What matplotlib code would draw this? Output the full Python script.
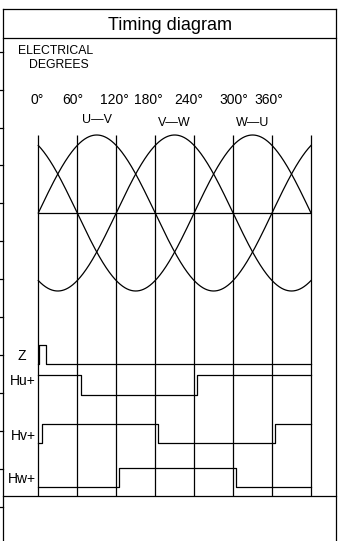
import matplotlib
matplotlib.use("Agg")
import matplotlib.pyplot as plt
import numpy as np

# ---------------- data ----------------
title = "Timing diagram"
axis_caption = ["ELECTRICAL", "DEGREES"]
degree_labels = ["0°", "60°", "120°", "180°", "240°", "300°", "360°"]
grid_degrees = [0, 60, 120, 180, 240, 300, 360, 420]

wave_names = ["U—V", "V—W", "W—U"]
wave_phases = [0, 120, 240]          # degrees
wave_amplitude = 1.0

signal_names = ["Z", "Hu+", "Hv+", "Hw+"]
signal_start = [0, 1, 0, 0]           # logic level at 0°
signal_edges = [
    [1.5, 11.5],                      # Z index pulse
    [65, 245],                        # Hu+
    [5, 185, 365],                    # Hv+
    [125, 305],                       # Hw+
]

# ---------------- layout ----------------
W, H = 338, 541
fig = plt.figure(figsize=(W / 100, H / 100), dpi=100)
fig.patch.set_facecolor("white")

frame = fig.add_axes([0, 0, 1, 1])
frame.set_xlim(0, W)
frame.set_ylim(H, 0)
frame.axis("off")

LW = 0.9
col = "black"
sans = ["Liberation Sans", "DejaVu Sans"]

# border frame
fl, fr, ft = 2.7, 336.3, 8.7
frame.plot([fl, fl], [ft, H + 2], color=col, lw=LW, clip_on=False)
frame.plot([fr, fr], [ft, H + 2], color=col, lw=LW, clip_on=False)
frame.plot([fl, fr], [ft, ft], color=col, lw=LW)
frame.plot([fl, fr], [37.5, 37.5], color=col, lw=LW)
frame.plot([fl, fr], [496.0, 496.0], color=col, lw=LW)
# ruler ticks on the left edge
for k in range(13):
    yy = 51.7 + 37.92 * k
    frame.plot([0, fl], [yy, yy], color=col, lw=LW, clip_on=False)

# title
frame.text(170, 30.5, title, ha="center", va="baseline",
           fontsize=13, family=sans, color=col)

# caption
frame.text(56, 51, axis_caption[0], ha="center", va="center",
           fontsize=8.8, family=sans, color=col)
frame.text(58.5, 64.7, axis_caption[1], ha="center", va="center",
           fontsize=8.8, family=sans, color=col)

# degree labels (positions as in the reference)
deg_label_x = [36.7, 73.0, 114.0, 148.5, 189.0, 234.0, 269.0]
for lab, xx in zip(degree_labels, deg_label_x):
    frame.text(xx, 99.5, lab, ha="center", va="center",
               fontsize=10, family=sans, color=col)

# ---------------- waveform / timing axes ----------------
x0, x1 = 38.3, 311.0
ytop, ybot, ymid, amp_px = 135.0, 496.0, 213.0, 78.0
ax = fig.add_axes([x0 / W, 1 - ybot / H, (x1 - x0) / W, (ybot - ytop) / H])
ax.set_xlim(grid_degrees[0], grid_degrees[-1])
ax.set_ylim(-(ybot - ymid) / amp_px, (ymid - ytop) / amp_px)
ax.axis("off")

ymin, ymax = ax.get_ylim()
ax.vlines(grid_degrees, ymin, ymax, color=col, lw=LW, clip_on=False)
ax.hlines(0, grid_degrees[0], grid_degrees[-1], color=col, lw=LW)

theta = np.linspace(grid_degrees[0], grid_degrees[-1], 800)
label_y = [1.12, 1.075, 1.075]
for name, ph, ly in zip(wave_names, wave_phases, label_y):
    ax.plot(theta, wave_amplitude * np.sin(np.radians(theta - ph)),
            color=col, lw=LW, clip_on=False)
    ax.text(90 + ph, ly, name, ha="center", va="bottom",
            fontsize=9, family=sans, color=col, clip_on=False)

# digital signals: low level (axis units) and height of each trace
sig_low = [-1.94, -2.33, -2.955, -3.51]
sig_height = [0.245, 0.256, 0.256, 0.245]
sig_label_y = [356.0, 381.0, 435.5, 479.0]   # pixel rows of the labels
for name, start, edges, lo, hgt, lyp in zip(signal_names, signal_start,
                                            signal_edges, sig_low, sig_height,
                                            sig_label_y):
    xs = [grid_degrees[0]]
    state = start
    ys = [lo + hgt * state]
    for e in edges:
        xs += [e, e]
        ys += [lo + hgt * state, lo + hgt * (1 - state)]
        state = 1 - state
    xs.append(grid_degrees[-1])
    ys.append(lo + hgt * state)
    ax.plot(xs, ys, color=col, lw=LW, clip_on=False)
    if name == "Z":
        frame.text(21.7, lyp, name, ha="center", va="center",
                   fontsize=10, family=sans, color=col)
    else:
        frame.text(35.5, lyp, name, ha="right", va="center",
                   fontsize=10, family=sans, color=col)

fig.savefig("out.png", dpi=100, facecolor="white")
